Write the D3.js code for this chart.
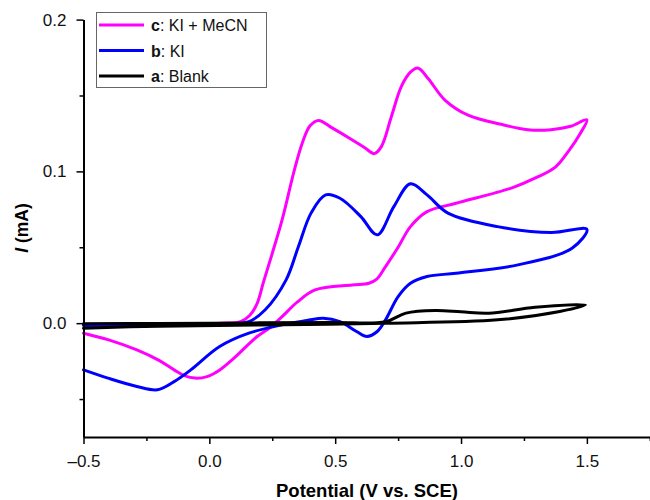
<!DOCTYPE html>
<html>
<head>
<meta charset="utf-8">
<script src="https://cdn.jsdelivr.net/npm/d3@7/dist/d3.min.js"></script>
<style>
  html, body { margin: 0; padding: 0; background: #fff; }
  svg { display: block; font-family: "Liberation Sans", Arial, Helvetica, sans-serif; }
</style>
</head>
<body>
<svg id="chart" width="650" height="500"></svg>
<script>
// ---------- DATA ----------
// c: KI + MeCN (full CV loop: forward then reverse)
const kiMecnV = [-0.50,-0.30,-0.10,0.05,0.124,0.160,0.190,0.215,0.25,0.289,0.338,0.37,0.40,0.434,0.486,0.565,0.619,0.655,0.684,0.723,0.763,0.800,0.830,0.870,0.936,1.028,1.159,1.266,1.357,1.436,1.50,
                 1.47,1.43,1.376,1.30,1.20,0.98,0.865,0.799,0.75,0.70,0.665,0.634,0.567,0.42,0.35,0.289,0.24,0.19,0.09,0.04,-0.009,-0.057,-0.10,-0.14,-0.20,-0.288,-0.40,-0.50];
const kiMecnI = [-0.0008,-0.0006,-0.0004,0.0,0.001,0.005,0.013,0.027,0.046,0.068,0.101,0.119,0.130,0.1336,0.1288,0.121,0.1154,0.1117,0.1165,0.136,0.156,0.1655,0.168,0.161,0.147,0.137,0.131,0.1275,0.1275,0.1297,0.134,
                 0.124,0.114,0.103,0.096,0.089,0.079,0.0735,0.0636,0.050,0.0373,0.029,0.0263,0.0252,0.0219,0.014,0.0043,-0.003,-0.0088,-0.0242,-0.031,-0.0352,-0.0362,-0.0345,-0.0308,-0.0245,-0.0176,-0.011,-0.0066];

// b: KI
const kiV = [-0.50,-0.30,-0.10,0.05,0.157,0.222,0.305,0.354,0.404,0.462,0.519,0.602,0.667,0.733,0.799,0.865,0.948,1.145,1.359,1.50,
             1.441,1.226,0.98,0.865,0.799,0.75,0.70,0.667,0.626,0.585,0.519,0.453,0.387,0.289,0.157,0.041,-0.074,-0.14,-0.206,-0.288,-0.403,-0.50];
const kiI = [-0.0015,-0.0012,-0.0008,-0.0004,0.001,0.0088,0.0285,0.0505,0.0725,0.0845,0.0823,0.0702,0.0582,0.0768,0.0918,0.0845,0.0725,0.0636,0.0597,0.0618,
             0.0494,0.0384,0.0329,0.0307,0.0263,0.0175,0.0022,-0.0055,-0.0088,-0.0055,0.001,0.0033,0.0017,-0.0011,-0.0066,-0.0154,-0.0308,-0.0385,-0.0439,-0.0417,-0.0362,-0.0308];

// a: Blank
const blankV = [-0.50,-0.20,0.20,0.50,0.70,0.781,0.897,1.00,1.111,1.294,1.494,
                1.392,1.145,0.70,0.20,-0.20,-0.50];
const blankI = [-0.0004,-0.0002,0.0002,0.0005,0.001,0.0066,0.0083,0.0075,0.0066,0.0105,0.012,
                0.0077,0.0022,0.0,-0.0012,-0.002,-0.0033];

const xMajorTicks = [-0.5, 0.0, 0.5, 1.0, 1.5];
const xMajorLabels = ["\u20130.5", "0.0", "0.5", "1.0", "1.5"];
const xMinorTicks = [-0.25, 0.25, 0.75, 1.25, 1.75];
const yMajorTicks = [0.0, 0.1, 0.2];
const yMajorLabels = ["0.0", "0.1", "0.2"];
const yMinorTicks = [-0.05, 0.05, 0.15];

const seriesNames = ["KI + MeCN", "KI", "Blank"];
const seriesKeys = ["c", "b", "a"];
const seriesColors = ["#ff00ff", "#0000ff", "#000000"];

// ---------- CHART ----------
const svg = d3.select("#chart");
const x = d3.scaleLinear().domain([-0.5, 1.75]).range([83.5, 649.8]);
const y = d3.scaleLinear().domain([-0.075, 0.2]).range([437, 19.6]);

const series = [
  { V: kiMecnV, I: kiMecnI },
  { V: kiV, I: kiI },
  { V: blankV, I: blankI }
];

const line = d3.line()
  .x(d => x(d[0]))
  .y(d => y(d[1]))
  .curve(d3.curveCatmullRom.alpha(0.5));

series.forEach((s, k) => {
  const pts = s.V.map((v, i) => [v, s.I[i]]);
  svg.append("path")
    .attr("d", line(pts))
    .attr("fill", "none")
    .attr("stroke", seriesColors[k])
    .attr("stroke-width", 3)
    .attr("stroke-linejoin", "round")
    .attr("stroke-linecap", "round");
});

// X axis
const xAxisG = svg.append("g").attr("transform", `translate(0,${y(-0.075)})`);
xAxisG.call(d3.axisBottom(x).tickValues(xMajorTicks)
  .tickFormat((d, i) => xMajorLabels[i]).tickSize(7).tickSizeOuter(0).tickPadding(11));
xAxisG.append("g").call(d3.axisBottom(x).tickValues(xMinorTicks).tickFormat("").tickSize(4).tickSizeOuter(0))
  .select(".domain").remove();

// Y axis
const yAxisG = svg.append("g").attr("transform", `translate(${x(-0.5)},0)`);
yAxisG.call(d3.axisLeft(y).tickValues(yMajorTicks)
  .tickFormat((d, i) => yMajorLabels[i]).tickSize(7).tickSizeOuter(0).tickPadding(10));
yAxisG.append("g").call(d3.axisLeft(y).tickValues(yMinorTicks).tickFormat("").tickSize(4).tickSizeOuter(0))
  .select(".domain").remove();

svg.selectAll(".domain").attr("stroke", "#000").attr("stroke-width", 2);
svg.selectAll(".tick line").attr("stroke", "#000").attr("stroke-width", 1.5);
svg.selectAll(".tick text")
  .attr("font-family", "Liberation Sans, Arial, sans-serif")
  .attr("font-size", 17).attr("fill", "#111");

// Axis titles
svg.append("text")
  .attr("x", 367).attr("y", 497)
  .attr("text-anchor", "middle")
  .attr("font-size", 18.5).attr("font-weight", "bold")
  .text("Potential (V vs. SCE)");

const yt = svg.append("text")
  .attr("transform", "translate(28,228) rotate(-90)")
  .attr("text-anchor", "middle")
  .attr("font-size", 17.5).attr("font-weight", "bold");
yt.append("tspan").attr("font-style", "italic").text("I");
yt.append("tspan").text(" (mA)");

// Legend
const lg = svg.append("g");
lg.append("rect").attr("x", 96.5).attr("y", 12.5).attr("width", 170).attr("height", 75)
  .attr("fill", "#fff").attr("stroke", "#666").attr("stroke-width", 1);
const rowsY = [25, 50.5, 76];
seriesNames.forEach((name, i) => {
  lg.append("line").attr("x1", 99).attr("x2", 144).attr("y1", rowsY[i]).attr("y2", rowsY[i])
    .attr("stroke", seriesColors[i]).attr("stroke-width", 3);
  const t = lg.append("text").attr("x", 151).attr("y", rowsY[i] + 6)
    .attr("font-size", 16).attr("fill", "#111");
  t.append("tspan").attr("font-weight", "bold").text(seriesKeys[i]);
  t.append("tspan").text(": " + name);
});
</script>
</body>
</html>
